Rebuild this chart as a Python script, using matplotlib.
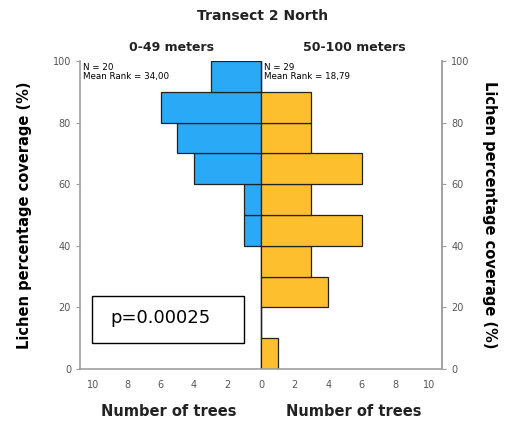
import numpy as np
import matplotlib.pyplot as plt
from matplotlib.patches import Rectangle

# bins of lichen coverage (%), lower edge of each 10% bin
bins = [0, 10, 20, 30, 40, 50, 60, 70, 80, 90]
near_counts = [0, 0, 0, 0, 1, 1, 4, 5, 6, 3]   # 0-49 meters, N = 20
far_counts = [1, 0, 4, 3, 6, 3, 6, 3, 3, 0]    # 50-100 meters, N = 29
xticks = [-10, -8, -6, -4, -2, 0, 2, 4, 6, 8, 10]
yticks = [0, 20, 40, 60, 80, 100]

blue = "#2aa9f6"
orange = "#fdbf2d"
grey = "#a0a0a0"

fig = plt.figure(figsize=(5.07, 4.24), dpi=100)
ax = fig.add_axes([0.158, 0.13, 0.714, 0.726])

ax.barh(bins, [-c for c in near_counts], height=10, align="edge",
        color=blue, edgecolor="#222222", linewidth=0.9)
ax.barh(bins, far_counts, height=10, align="edge",
        color=orange, edgecolor="#222222", linewidth=0.9)
ax.axvline(0, color=grey, linewidth=1, zorder=0)

ax.set_xlim(-10.8, 10.8)
ax.set_ylim(0, 100)
ax.set_xticks(xticks)
ax.set_xticklabels([str(abs(t)) for t in xticks], fontsize=7, color="#555555")
ax.set_yticks(yticks)
ax.set_yticklabels([str(t) for t in yticks], fontsize=7, color="#555555")
ax.tick_params(axis="x", length=0, pad=8)
ax.tick_params(axis="y", length=3, color=grey)

ax.spines["top"].set_visible(False)
for side in ["left", "bottom", "right"]:
    ax.spines[side].set_color(grey)
    ax.spines[side].set_linewidth(1.2)

ax2 = ax.twinx()
ax2.set_ylim(0, 100)
ax2.set_yticks(yticks)
ax2.set_yticklabels([str(t) for t in yticks], fontsize=7, color="#555555")
ax2.tick_params(axis="y", length=3, color=grey)
for side in ["top", "left", "bottom"]:
    ax2.spines[side].set_visible(False)
ax2.spines["right"].set_color(grey)
ax2.spines["right"].set_linewidth(1.2)

ax.set_ylabel("Lichen percentage coverage (%)", fontsize=10.5, fontweight="bold", labelpad=15)
ax2.set_ylabel("Lichen percentage coverage (%)", fontsize=10.5, fontweight="bold",
               rotation=270, labelpad=20)

ax.text(-10.6, 99.5, "N = 20\nMean Rank = 34,00", fontsize=6.3, va="top", ha="left",
        linespacing=1.0)
ax.text(0.2, 99.5, "N = 29\nMean Rank = 18,79", fontsize=6.3, va="top", ha="left",
        linespacing=1.0)

# p-value box
ax.add_patch(Rectangle((-10.1, 8.4), 9.1, 15.3, facecolor="white",
                       edgecolor="black", linewidth=1.0, zorder=3))
ax.text(-6.0, 16.6, "p=0.00025", fontsize=13, ha="center", va="center", zorder=4)

fig.text(0.517, 0.962, "Transect 2 North", ha="center", va="center",
         fontsize=10, fontweight="bold", color="#222222")
fig.text(0.338, 0.889, "0-49 meters", ha="center", va="center",
         fontsize=9, fontweight="bold", color="#222222")
fig.text(0.698, 0.889, "50-100 meters", ha="center", va="center",
         fontsize=9, fontweight="bold", color="#222222")
fig.text(0.332, 0.03, "Number of trees", ha="center", va="center",
         fontsize=10.5, fontweight="bold", color="#222222")
fig.text(0.697, 0.03, "Number of trees", ha="center", va="center",
         fontsize=10.5, fontweight="bold", color="#222222")

fig.savefig("out.png", dpi=100)
